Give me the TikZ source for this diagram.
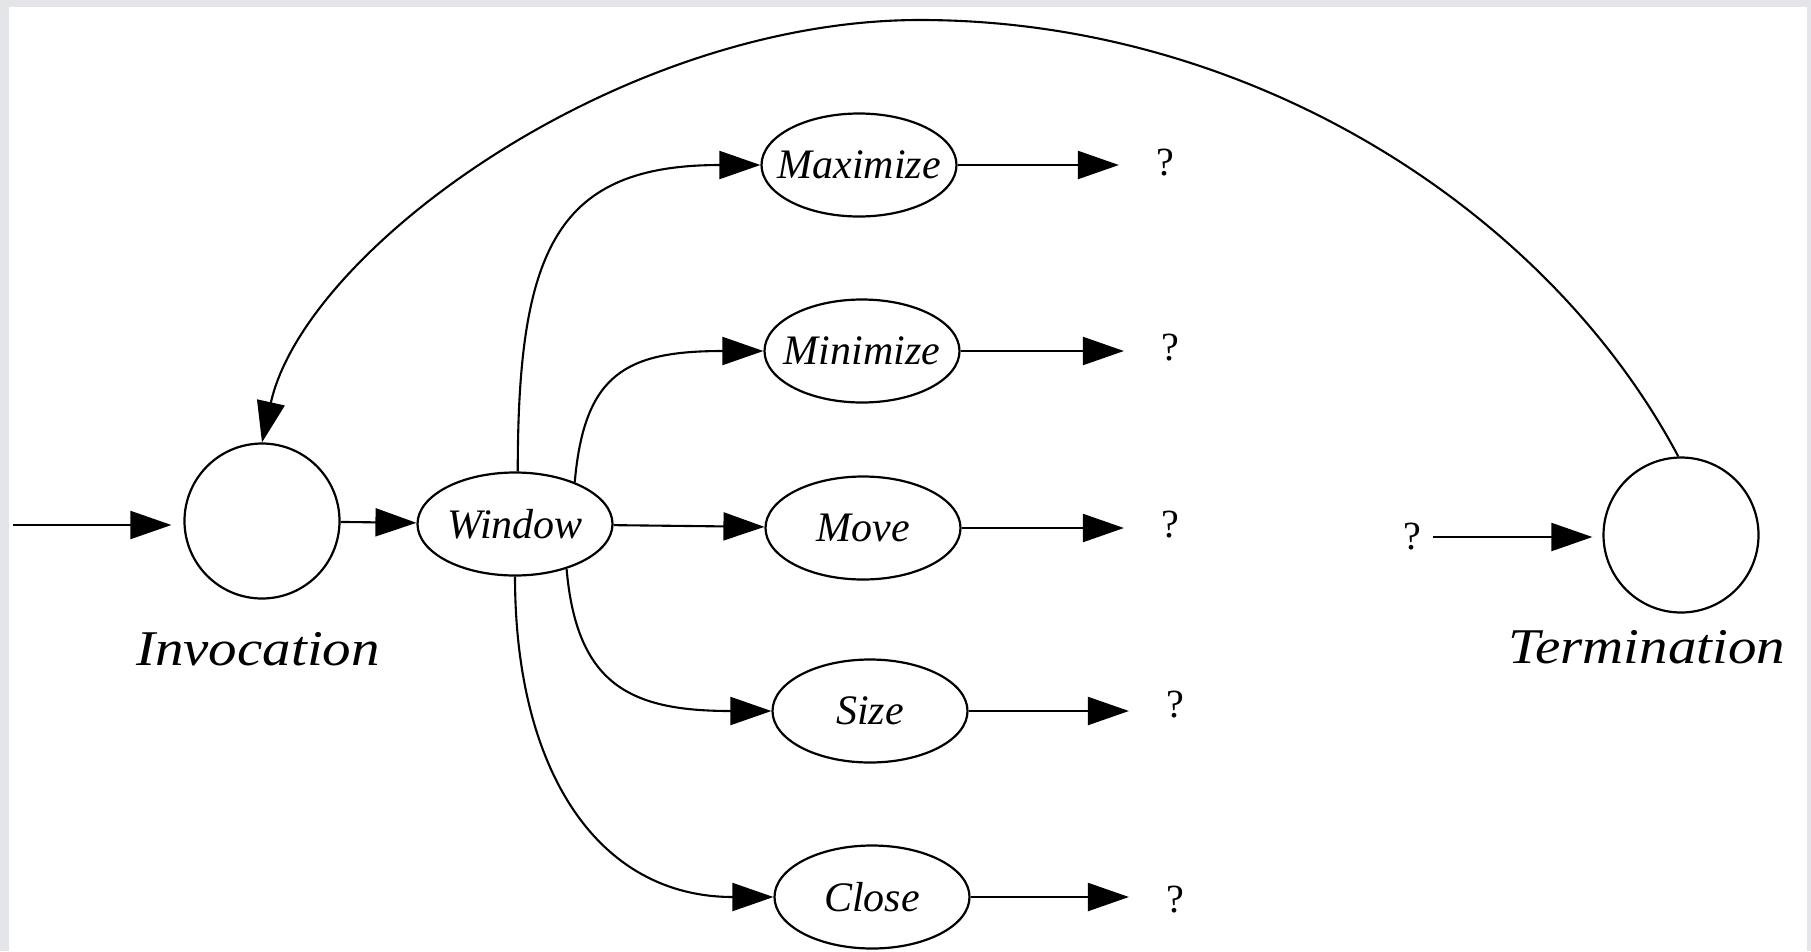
\documentclass[tikz,border=0pt]{standalone}
\usepackage{graphicx}
\usepackage{fontspec}
\setmainfont{Liberation Serif}
\usetikzlibrary{arrows.meta,shapes.geometric}
\definecolor{framegray}{HTML}{E3E5E9}
\begin{document}
\begin{tikzpicture}[x=1pt,y=1pt,
  every node/.style={inner sep=0pt},
  state/.style={circle,draw,line width=2.2pt,minimum size=155pt},
  action/.style={ellipse,draw,line width=2.2pt,minimum width=195pt,minimum height=103pt,
    inner xsep=-30pt,inner ysep=0pt,font=\fontsize{42}{42}\selectfont\itshape},
  flow/.style={line width=2.1pt,-{Triangle[length=41pt,width=28pt]}},
  caption/.style={anchor=base,font=\fontsize{50}{50}\selectfont\itshape},
  query/.style={font=\fontsize{40}{40}\selectfont}
]
% page with a thin grey frame
\useasboundingbox (0,-951) rectangle (1811,0);
\fill[framegray] (0,-951) rectangle (1811,0);
\fill[white] (9,-951) rectangle (1807,-7);

% states
\node[state] (inv) at (262,-521) {};
\node[state] (term) at (1681,-535) {};
\node[caption] (invlabel) at (258,-665) {\scalebox{1.14}[1]{Invocation}};
\node[caption] (termlabel) at (1647,-663) {\scalebox{1.14}[1]{Termination}};

% actions
\node[action] (win) at (515,-524) {Window};
\node[action] (max) at (859,-165) {Maximize};
\node[action] (min) at (862,-351) {Minimize};
\node[action] (mov) at (863,-528) {Move};
\node[action] (siz) at (870,-711) {Size};
\node[action] (clo) at (872,-897) {Close};

% open ends
\node[query] (q1) at (1165,-163) {?};
\node[query] (q2) at (1170,-348) {?};
\node[query] (q3) at (1170,-525) {?};
\node[query] (q4) at (1175,-705) {?};
\node[query] (q5) at (1175,-900) {?};
\node[query] (q0) at (1412,-537) {?};
\coordinate (entry) at (13,-525);
\coordinate (apex) at (920,-20);

% connectors
\draw[flow, shorten >=12pt] (entry) -- (entry -| inv.west);
\draw[flow] (inv) -- (win);
\draw[flow] (win) -- (mov);
\draw[flow] (win.87) to[out=90,in=180,out looseness=1.46,in looseness=1.33] (max.west);
\draw[flow] (win.35) to[out=85,in=180,out looseness=1.22,in looseness=1.53] (min.west);
\draw[flow] (win.-41) to[out=-85,in=180,out looseness=1.2,in looseness=1.45] (siz.west);
\draw[flow] (win.south) to[out=-90,in=180,out looseness=1.2,in looseness=1.1] (clo.west);

\draw[flow, shorten >=37pt] (max) -- (max -| q1.west);
\draw[flow, shorten >=37pt] (min) -- (min -| q2.west);
\draw[flow, shorten >=37pt] (mov) -- (mov -| q3.west);
\draw[flow, shorten >=37pt] (siz) -- (siz -| q4.west);
\draw[flow, shorten >=37pt] (clo) -- (clo -| q5.west);

\draw[flow, shorten <=12pt, shorten >=10pt] (q0) -- (q0 -| term.west);
\draw[flow] (term.92) .. controls +(-131,247) and +(330,0) .. (apex)
  .. controls +(-300,0) and +(43,193) .. (inv.north);
\end{tikzpicture}
\end{document}
